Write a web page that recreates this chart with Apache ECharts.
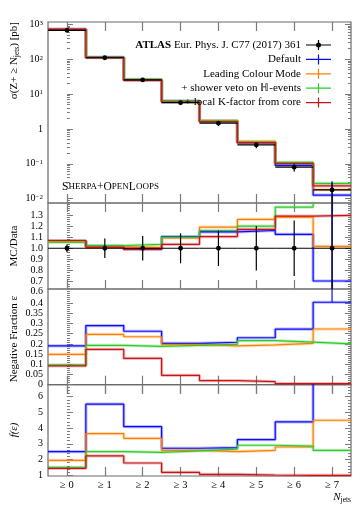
<!DOCTYPE html>
<html><head><meta charset="utf-8">
<script src="https://cdn.jsdelivr.net/npm/echarts@6/dist/echarts.min.js"></script>
<style>html,body{margin:0;padding:0;background:#fff}#c{width:362px;height:506px}</style>
</head><body><div id="c"></div>
<script>
// ---------------- data ----------------
const categories = ['≥ 0','≥ 1','≥ 2','≥ 3','≥ 4','≥ 5','≥ 6','≥ 7'];
const dataXS     = [673, 110, 25.4, 5.68, 1.46, 0.348, 0.080, 0.0179];
const dataRelErr = [0.035, 0.087, 0.11, 0.135, 0.16, 0.20, 0.25, 0.6];

const xsDefault = [717, 112.2, 25.3, 6.28, 1.675, 0.404, 0.0901, 0.0126];
const xsLCM     = [713, 111.7, 25.5, 6.21, 1.737, 0.438, 0.1024, 0.0182];
const xsVeto    = [710, 112.8, 26.3, 6.25, 1.694, 0.418, 0.1096, 0.0277];
const xsLocalK  = [720, 111.1, 25.1, 5.88, 1.613, 0.407, 0.1032, 0.0232];
const xsDefaultErrLo = [0, 0, 0, 0, 0, 0, 0, 0.019];
const xsDefaultErrHi = [0, 0, 0, 0, 0, 0, 0, 0.019];

const ratioDefault = [1.065, 1.02, 0.995, 1.105, 1.147, 1.16, 1.126, 0.705];
const ratioLCM     = [1.06, 1.015, 1.005, 1.093, 1.19, 1.26, 1.28, 1.018];
const ratioVeto    = [1.055, 1.025, 1.035, 1.10, 1.16, 1.20, 1.37, 1.55];
const ratioLocalK  = [1.07, 1.01, 0.99, 1.036, 1.105, 1.17, 1.29, 1.297];
const ratioDefaultErrLo = [0, 0, 0, 0, 0, 0, 0, 1.05];
const ratioDefaultErrHi = [0, 0, 0, 0, 0, 0, 0, 1.05];

const negDefault = [0.19, 0.29, 0.262, 0.203, 0.208, 0.23, 0.272, 0.404];
const negLCM     = [0.149, 0.247, 0.235, 0.198, 0.19, 0.195, 0.203, 0.273];
const negVeto    = [0.097, 0.193, 0.188, 0.193, 0.198, 0.216, 0.209, 0.20];
const negLocalK  = [0.092, 0.173, 0.129, 0.046, 0.02, 0.015, 0.005, 0.005];
const negDefaultErrLo = [0, 0, 0, 0, 0, 0, 0, 0];
const negDefaultErrHi = [0, 0, 0, 0, 0, 0, 0, 0.1];

const fDefault = [2.5, 5.52, 4.09, 2.72, 2.76, 3.27, 4.39, 27];
const fLCM     = [1.95, 3.65, 3.35, 2.59, 2.5, 2.59, 2.8, 4.5];
const fVeto    = [1.51, 2.5, 2.46, 2.55, 2.67, 2.91, 2.85, 2.59];
const fLocalK  = [1.445, 2.23, 1.78, 1.19, 1.06, 1.02, 1.0, 1.0];

const logTicks   = [0.01, 0.1, 1, 10, 100, 1000];
const ratioTicks = [0.7, 0.8, 0.9, 1.0, 1.1, 1.2, 1.3];
const negTicks   = [0, 0.05, 0.1, 0.15, 0.2, 0.25, 0.3, 0.35, 0.4];
const negTickLabels = ['0','0.05','0.1','0.15','0.2','0.25','0.3','0.35','0.4'];
const fTicks     = [1, 2, 3, 4, 5, 6];
const xTickVals  = [0, 1, 2, 3, 4, 5, 6, 7];

const NAME_DATA = 'ATLAS Eur. Phys. J. C77 (2017) 361';
const NAME_DEF = 'Default', NAME_LCM = 'Leading Colour Mode',
      NAME_VETO = '+ shower veto on \u210D-events', NAME_LK = '+ local K-factor from core';
const COL = {def:'#0a0aff', lcm:'#ff8000', veto:'#2ec92e', lk:'#c81414'};
const FONT = 'Liberation Serif';
const FRAME = '#6a6a6a', TICK = '#7a7a7a';

// ---------------- helpers ----------------
function steps(arr){ const o=[]; arr.forEach((v,i)=>{ o.push([i-0.5,v],[i+0.5,v]); }); return o; }
function range(a,b,s){ const o=[]; for(let v=a; v<=b+1e-9; v+=s) o.push(+v.toFixed(4)); return o; }
const logMinor = []; for(let e=-3;e<=3;e++) for(let m=2;m<=9;m++){ const v=m*Math.pow(10,e); if(v>0.0075&&v<1160) logMinor.push(v); }
function logFmt(v){ const e=Math.round(Math.log10(v)); if(e===0) return '{m|1}'; return '{m|10}{s|'+String(e).replace('-','\u2212')+'}'; }

const grids = [
  {left:48, right:11, top:22, height:181},
  {left:48, right:11, top:203, height:86},
  {left:48, right:11, top:289, height:95.7},
  {left:48, right:11, top:384.7, height:91.3}
].map(g=>Object.assign(g,{show:true, borderColor:FRAME, borderWidth:1.2, backgroundColor:'transparent'}));

const xAxes = [];
for(let g=0; g<4; g++){
  ['bottom','top'].forEach(pos=>{
    xAxes.push({type:'value', gridIndex:g, min:-0.5, max:7.5, position:pos,
      axisLine:{show:false}, splitLine:{show:false},
      axisTick:{show:true, inside:true, length:9, customValues:xTickVals, lineStyle:{color:TICK, width:1.2}},
      axisLabel:{show:(g===3 && pos==='bottom'), customValues:xTickVals, formatter:v=>categories[Math.round(v)],
        fontFamily:FONT, fontSize:10.5, color:'#000', margin:4}});
  });
}

const yAxes = [];
function addY(g, type, min, max, majors, minors, fmt, rich){
  const base = {gridIndex:g, type:type, min:min, max:max, axisLine:{show:false}, splitLine:{show:false}};
  if(type==='log') base.logBase = 10;
  const ls = {color:TICK, width:1};
  yAxes.push(Object.assign({}, base, {position:'left',
    axisTick:{show:true, inside:true, length:6, customValues:majors, lineStyle:ls},
    axisLabel:{show:true, customValues:majors, formatter:fmt, fontFamily:FONT, fontSize:10, color:'#000', margin:5, rich:rich}}));
  yAxes.push(Object.assign({}, base, {position:'left',
    axisTick:{show:true, inside:true, length:3, customValues:minors, lineStyle:ls}, axisLabel:{show:false}}));
  yAxes.push(Object.assign({}, base, {position:'right',
    axisTick:{show:true, inside:true, length:6, customValues:majors, lineStyle:ls}, axisLabel:{show:false}}));
  yAxes.push(Object.assign({}, base, {position:'right',
    axisTick:{show:true, inside:true, length:3, customValues:minors, lineStyle:ls}, axisLabel:{show:false}}));
}
addY(0, 'log', Math.pow(10,-2.123), Math.pow(10,3.066), logTicks, logMinor, logFmt,
  {m:{fontFamily:FONT, fontSize:10, color:'#000'}, s:{fontFamily:FONT, fontSize:7, color:'#000', verticalAlign:'top', lineHeight:8}});
addY(1, 'value', 0.633, 1.408, ratioTicks, range(0.64,1.40,0.02), v=>v.toFixed(1));
addY(2, 'value', 0, 0.469, negTicks, range(0,0.46,0.01), v=>negTickLabels[Math.round(v/0.05)]);
addY(3, 'value', 0.955, 6.76, fTicks, range(1,6.6,0.2), v=>String(Math.round(v)));

const series = [];
function mc(g, name, arr, color){
  series.push({type:'line', name:name+' band', xAxisIndex:2*g, yAxisIndex:4*g, data:steps(arr),
    symbol:'none', silent:true, animation:false, z:2, lineStyle:{color:color, width:3.2, opacity:0.28}});
  series.push({type:'line', name:name, xAxisIndex:2*g, yAxisIndex:4*g, data:steps(arr),
    symbol:'none', animation:false, z:3, color:color, itemStyle:{color:color}, lineStyle:{color:color, width:1.2}});
}
function mcErr(g, vals, lo, hi, color){
  series.push({type:'custom', name:'err', xAxisIndex:2*g, yAxisIndex:4*g, clip:true, silent:true, animation:false, z:4,
    data: vals.map((v,i)=>[i, v, Math.max(v-lo[i], 1e-6), v+hi[i], lo[i]+hi[i]]),
    renderItem:(p, api)=>{
      if(!api.value(4)) return null;
      const i=api.value(0);
      const a=api.coord([i, api.value(2)]), b=api.coord([i, api.value(3)]);
      return {type:'line', shape:{x1:a[0], y1:a[1], x2:b[0], y2:b[1]}, style:{stroke:color, lineWidth:1.2}};
    }});
}
function dataSeries(g, vals, lows, highs, withName){
  series.push({type:'custom', name: withName ? NAME_DATA : 'data', xAxisIndex:2*g, yAxisIndex:4*g, clip:true, animation:false, z:10,
    itemStyle:{color:'#000'},
    data: vals.map((v,i)=>[i, v, lows[i], highs[i]]),
    renderItem:(p, api)=>{
      const i=api.value(0), v=api.value(1);
      const c=api.coord([i,v]), l=api.coord([i-0.5,v]), r=api.coord([i+0.5,v]);
      const lo=api.coord([i,api.value(2)]), hi=api.coord([i,api.value(3)]);
      return {type:'group', children:[
        {type:'line', shape:{x1:l[0],y1:l[1],x2:r[0],y2:r[1]}, style:{stroke:'#000', lineWidth:1.2}},
        {type:'line', shape:{x1:c[0],y1:lo[1],x2:c[0],y2:hi[1]}, style:{stroke:'#000', lineWidth:1.2}},
        {type:'circle', shape:{cx:c[0], cy:c[1], r:2.4}, style:{fill:'#000'}}
      ]};
    }});
}

// top panel
mc(0, NAME_DEF, xsDefault, COL.def); mc(0, NAME_LCM, xsLCM, COL.lcm); mc(0, NAME_VETO, xsVeto, COL.veto); mc(0, NAME_LK, xsLocalK, COL.lk);
mcErr(0, xsDefault, xsDefaultErrLo, xsDefaultErrHi, COL.def);
dataSeries(0, dataXS, dataXS.map((v,i)=>v*(1-dataRelErr[i])), dataXS.map((v,i)=>v*(1+dataRelErr[i])), true);
// ratio
mc(1, NAME_DEF, ratioDefault, COL.def); mc(1, NAME_LCM, ratioLCM, COL.lcm); mc(1, NAME_VETO, ratioVeto, COL.veto); mc(1, NAME_LK, ratioLocalK, COL.lk);
mcErr(1, ratioDefault, ratioDefaultErrLo, ratioDefaultErrHi, COL.def);
dataSeries(1, dataXS.map(()=>1), dataRelErr.map(e=>1-e), dataRelErr.map(e=>1+e), false);
// negative fraction
mc(2, NAME_DEF, negDefault, COL.def); mc(2, NAME_LCM, negLCM, COL.lcm); mc(2, NAME_VETO, negVeto, COL.veto); mc(2, NAME_LK, negLocalK, COL.lk);
mcErr(2, negDefault, negDefaultErrLo, negDefaultErrHi, COL.def);
// f(eps)
mc(3, NAME_DEF, fDefault, COL.def); mc(3, NAME_LCM, fLCM, COL.lcm); mc(3, NAME_VETO, fVeto, COL.veto); mc(3, NAME_LK, fLocalK, COL.lk);

const iconMC = 'path://M0,4.4H25V5.6H0Z M11.9,0H13.1V10H11.9Z';
const iconData = 'path://M0,4.4H25V5.6H0Z M11.9,0H13.1V10H11.9Z M10,5A2.5,2.5 0 1 1 15,5A2.5,2.5 0 1 1 10,5Z';

const subRich = {
  t:{fontFamily:FONT, fontSize:11, color:'#000', lineHeight:14},
  i:{fontFamily:FONT, fontSize:11, color:'#000', fontStyle:'italic', lineHeight:14},
  sub:{fontFamily:FONT, fontSize:7.5, color:'#000', verticalAlign:'bottom', lineHeight:9}
};

const option = {
  animation:false,
  backgroundColor:'#fff',
  grid: grids,
  xAxis: xAxes,
  yAxis: yAxes,
  series: series,
  legend: {
    orient:'vertical', right:26, top:34.5, align:'right', itemWidth:25, itemHeight:10, itemGap:3.4,
    selectedMode:false,
    data:[{name:NAME_DATA, icon:iconData}, {name:NAME_DEF, icon:iconMC}, {name:NAME_LCM, icon:iconMC},
          {name:NAME_VETO, icon:iconMC}, {name:NAME_LK, icon:iconMC}],
    formatter: n => n===NAME_DATA ? '{b|ATLAS} Eur. Phys. J. C77 (2017) 361' : n,
    textStyle:{fontFamily:FONT, fontSize:11, color:'#000', rich:{b:{fontFamily:FONT, fontSize:11, fontWeight:'bold', color:'#000'}}}
  },
  graphic: [
    {type:'text', x:14, y:22, rotation:Math.PI/2, style:{text:'{t|\u03C3(Z+ \u2265 N}{sub|jets}{t|) [pb]}', rich:subRich, align:'right', verticalAlign:'middle'}},
    {type:'text', x:14, y:246, rotation:Math.PI/2, style:{text:'MC/Data', fontFamily:FONT, fontSize:11, fill:'#000', align:'center', verticalAlign:'middle'}},
    {type:'text', x:14, y:339, rotation:Math.PI/2, style:{text:'Negative Fraction \u03B5', fontFamily:FONT, fontSize:11, fill:'#000', align:'center', verticalAlign:'middle'}},
    {type:'text', x:14, y:430, rotation:Math.PI/2, style:{text:'f(\u03B5)', fontFamily:FONT, fontSize:11, fontStyle:'italic', fill:'#000', align:'center', verticalAlign:'middle'}},
    {type:'text', x:351, y:497, style:{text:'{i|N}{sub|jets}', rich:subRich, align:'right', verticalAlign:'middle'}},
    {type:'text', x:43, y:291.5, style:{text:'0.6', fontFamily:FONT, fontSize:10, fill:'#000', align:'right', verticalAlign:'middle'}},
    {type:'text', x:62, y:187, style:{text:'{L|S}{s|HERPA}{L|+O}{s|PEN}{L|L}{s|OOPS}',
      rich:{L:{fontFamily:FONT, fontSize:11.5, color:'#9a9a9a'}, s:{fontFamily:FONT, fontSize:9, color:'#9a9a9a'}}, verticalAlign:'middle'}}
  ]
};
const chart = echarts.init(document.getElementById('c'), null, {renderer:'canvas'});
chart.setOption(option);
</script></body></html>
